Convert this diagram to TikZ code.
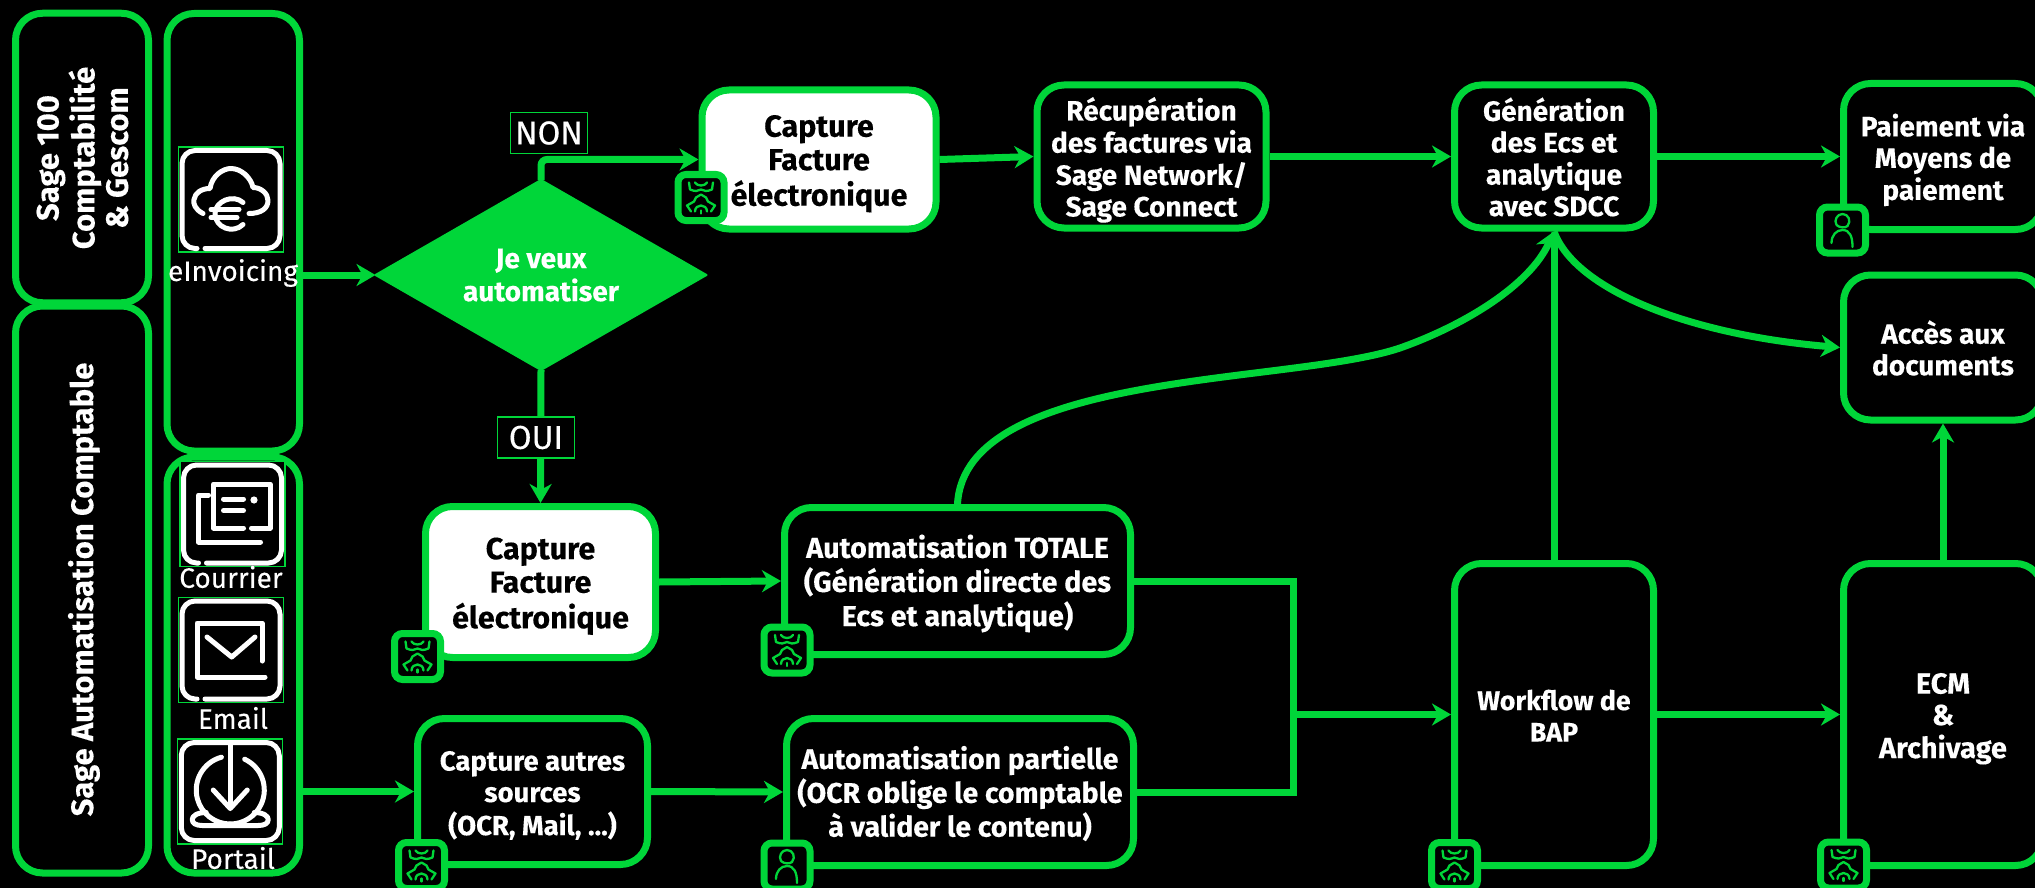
\documentclass[tikz,border=0pt]{standalone}
\usepackage{fontspec}
\setmainfont{Fira Sans}[BoldFeatures={FakeBold=0.25}]
\usetikzlibrary{arrows.meta,shapes.geometric,calc}
\definecolor{sgreen}{HTML}{00D639}
\newcommand\fsz[2]{\fontsize{#1}{#2}\selectfont}
\newcommand\lowertext[2][5pt]{\raisebox{-#1}[\height][\depth]{\begin{tabular}{@{}c@{}}#2\end{tabular}}}
\tikzset{
  x=1pt,y=-1pt,
  wh/.style 2 args={minimum width=#1,minimum height=#2},
  box/.style={draw=sgreen,line width=7pt,fill=black,rounded corners=27pt,text=white,align=center,inner sep=0pt,font=\fsz{28}{31.5}\bfseries},
  whitebox/.style={box,fill=white,text=black,font=\fsz{30.5}{33.5}\bfseries},
  sidebox/.style={box,font=\fsz{31}{33.5}\bfseries},
  conn/.style={draw=sgreen,line width=7pt},
  arr/.style={conn,-{Stealth[length=19pt,width=22pt,inset=6pt]}},
  badge/.style={draw=sgreen,line width=7pt,fill=black,rounded corners=8pt,minimum size=46pt,inner sep=0pt},
  frame/.style={draw=sgreen,line width=1.2pt,fill=black,minimum size=105pt,inner sep=0pt},
  iconlabel/.style={text=white,inner sep=0pt,font=\fsz{28}{30}\mdseries\addfontfeature{FakeBold=0.2}},
  tag/.style={draw=sgreen,line width=1.2pt,fill=black,text=white,inner sep=0pt,font=\fsz{33}{34}\mdseries\addfontfeature{FakeBold=0.2}},
  wline/.style={draw=white,line width=5pt,line cap=round,line join=round},
  gline/.style={draw=sgreen,line width=2.3pt,line cap=round,line join=round},
  boticon/.pic={
    \draw[gline] (-12,-15) -- (-11,-8) .. controls (-6,-6) and (-3,-6) .. (0,-8) .. controls (3,-6) and (6,-6) .. (11,-8) -- (12,-15);
    \draw[gline] (-6,-15) .. controls (-4,-11) and (4,-11) .. (6,-15);
    \draw[gline] (-10,14) -- (-14,8) -- (-7,4) -- (-5,0) -- (0,-3) -- (5,0) -- (7,4) -- (14,8) -- (10,14);
    \draw[gline] (-6,14) .. controls (-6,6) and (6,6) .. (6,14);
    \draw[gline] (0,13) -- (0,16);
  },
  personicon/.pic={
    \draw[gline] (-6,-5) .. controls (-9,-10) and (-5,-16) .. (0,-16) .. controls (6,-16) and (9,-9) .. (5,-4) .. controls (3,-2) and (-3,-2) .. (-6,-5);
    \draw[gline] (-11,13) .. controls (-11,5) and (-6,0) .. (0,0) .. controls (7,0) and (10,6) .. (10,17);
  },
  outlineicon/.pic={
    \draw[wline,rounded corners=13pt] (-34,49) -- (-49,49) -- (-49,-49) -- (49,-49) -- (49,49) -- (-26,49);
  },
  cloudicon/.pic={
    \draw[wline] (-28,14) .. controls (-36,10) and (-38,4) .. (-37,0) .. controls (-36,-7) and (-29,-11) .. (-21,-11)
       .. controls (-19,-24) and (-8,-31) .. (0,-31) .. controls (10,-31) and (20,-22) .. (22,-12)
       .. controls (30,-12) and (37,-6) .. (37,1) .. controls (37,9) and (30,14) .. (18,14);
    \draw[wline] (12,3) .. controls (2,-6) and (-16,2) .. (-16,14) .. controls (-16,28) and (2,35) .. (12,25);
    \draw[wline] (-20,10) -- (8,10);
    \draw[wline] (-20,18) -- (6,18);
  },
  mailicon/.pic={
    \draw[wline] (19,14) -- (37.5,14) -- (37.5,-30) -- (-19,-30) -- (-19,14) -- (11,14);
    \draw[wline] (-24,-19) -- (-34,-19) -- (-34,28) -- (28,28);
    \draw[wline] (-9,-15) -- (11,-15);
    \draw[wline] (-9,-3.5) -- (11,-3.5);
    \fill[white] (21.5,-14) circle (3.6pt);
  },
  envicon/.pic={
    \draw[wline] (34,27) -- (-34,27) -- (-34,-27) -- (31,-27) -- (31,11);
    \draw[wline] (-24,-13) -- (0.7,7) -- (24,-13);
  },
  downicon/.pic={
    \draw[wline,rounded corners=13pt] (8,-49) -- (49,-49) -- (49,49) -- (-49,49) -- (-49,-49) -- (-2,-49) -- (0,-49);
    \draw[wline] (0,-49) -- (0,16);
    \draw[wline] (-17,-1.5) -- (0,17) -- (17,-1.5);
    \draw[wline] (-8.8,-34.3) arc (-105:-270:34);
    \draw[wline] (14.4,-32.3) arc (-65:90:34);
    \draw[wline] (-24,21) .. controls (-34,21) and (-38,25) .. (-38,28) .. controls (-38,32) and (-34,34) .. (-28,34) -- (28,34)
      .. controls (34,34) and (38,32) .. (38,28) .. controls (38,25) and (34,21) .. (24,21);
  },
}
\newcommand\botbadge[2]{\node[badge] (#1) at (#2) {}; \pic at (#2) {boticon};}
\newcommand\userbadge[2]{\node[badge] (#1) at (#2) {}; \pic at (#2) {personicon};}
\begin{document}
\begin{tikzpicture}
\useasboundingbox (0,0) rectangle (2035,888);
\clip (0,0) rectangle (2035,888);
\fill[black] (0,0) rectangle (2035,888);

% side columns
\node[sidebox,rotate=90,wh={289.5}{133}] (sage) at (82,158) {\lowertext[4.5pt]{Sage 100\\Comptabilité\\\& Gescom}};
\node[sidebox,rotate=90,wh={567}{133}] (auto) at (82,589.5) {\lowertext[3.5pt]{Sage Automatisation Comptable}};
\node[box,wh={132.5}{437.5}] (einv) at (233.25,232.25) {};
\node[box,wh={132.5}{416}] (src) at (233.25,665) {};

% flow nodes
\node[diamond,aspect=1.734,fill=sgreen,draw=sgreen,line width=2pt,line join=round,minimum width=331pt,minimum height=190pt,inner sep=0pt,outer sep=0pt,text=white,align=center,font=\fsz{28}{33}\bfseries] (dec) at (541,275) {\lowertext[3pt]{Je veux\\automatiser}};
\node[whitebox,wh={234}{139}] (capa) at (819,159.5) {\lowertext{Capture\\Facture\\électronique}};
\node[whitebox,wh={230}{151}] (capb) at (540.5,582) {\lowertext{Capture\\Facture\\électronique}};
\node[box,wh={230}{146},font=\fsz{27.5}{31.5}\bfseries] (capc) at (532.5,791.5) {\lowertext{Capture autres\\sources\\(OCR, Mail, ...)}};
\node[box,wh={229}{143}] (rec) at (1151.5,156.5) {\lowertext{Récupération\\des factures via\\Sage Network/\\Sage Connect}};
\node[box,wh={199}{143}] (gen) at (1554,156.5) {\lowertext{Génération\\des Ecs et\\analytique\\avec SDCC}};
\node[box,wh={199}{146}] (pai) at (1943,156.5) {\lowertext{Paiement via\\Moyens de\\paiement}};
\node[box,wh={199}{145}] (acc) at (1943,347.5) {\lowertext{Accès aux\\documents}};
\node[box,wh={346}{147},font=\fsz{28.7}{31.5}\bfseries] (tot) at (957.5,581) {\lowertext[4pt]{Automatisation TOTALE\\(Génération directe des\\Ecs et analytique)}};
\node[box,wh={347}{147},font=\fsz{28.4}{31.5}\bfseries] (par) at (960,792) {\lowertext[4pt]{Automatisation partielle\\(OCR oblige le comptable\\à valider le contenu)}};
\node[box,wh={199}{302},font=\fsz{26.8}{31.5}\bfseries] (wf) at (1554,714.5) {\lowertext{Workflow de\\BAP}};
\node[box,wh={199}{302},font=\fsz{29}{31.5}\bfseries] (ecm) at (1943,714.5) {\lowertext{ECM\\\&\\Archivage}};

\coordinate (junc) at (1293,714.5);
\coordinate (ca) at (965,370);
\coordinate (cb) at (1290,385);
\coordinate (cm) at (1400,348);
\coordinate (cc) at (1465,325);
\coordinate (cd) at (1530,285);
\coordinate (ce) at (1575,290);
\coordinate (cf) at (1690,335);

% connectors
\draw[arr] (einv.east |- dec.west) -- (dec.west);
\draw[arr,rounded corners=6pt] (dec.north) |- (capa.west);
\draw[arr] (dec.south) -- (capb.north);
\draw[arr] (capa.east) -- (rec.west);
\draw[arr] (rec.east) -- (gen.west);
\draw[arr] (gen.east) -- (pai.west);
\draw[arr] (capb.east) -- (tot.west);
\draw[arr] (capc.east) -- (par.west);
\draw[arr] (src.east |- capc.west) -- (capc.west);
\draw[conn] (tot.east) -| (junc);
\draw[conn] (par.east) -| (junc);
\draw[arr] (junc) -- (wf.west);
\draw[arr] (wf.east) -- (ecm.west);
\draw[arr] (wf.north) -- (gen.south);
\draw[arr] (ecm.north) -- (acc.south);
\draw[arr] (tot.north) .. controls (ca) and (cb) .. (cm) .. controls (cc) and (cd) .. (gen.south);
\draw[arr] (gen.south) .. controls (ce) and (cf) .. (acc.west);

% tags
\node[tag,wh={77}{41}] (non) at (549,133) {NON};
\node[tag,wh={77}{41}] (oui) at (536,437.5) {OUI};

% icons with labels
\node[frame] (ia) at (231,199.5) {}; \pic at (ia) {outlineicon}; \pic at (ia) {cloudicon};
\node[iconlabel] (la) at (233,273) {eInvoicing};
\node[frame] (ib) at (232.5,514) {}; \pic at (ib) {outlineicon}; \pic at (ib) {mailicon};
\node[iconlabel] (lb) at (231,577) {Courrier};
\node[frame] (ic) at (231,650) {}; \pic at (ic) {outlineicon}; \pic at (ic) {envicon};
\node[iconlabel] (lc) at (233,718) {Email};
\node[frame] (id) at (230.25,791.5) {}; \pic at (id) {downicon};
\node[iconlabel] (ld) at (233,858) {Portail};

% badges
\botbadge{ba}{701,197.5}
\botbadge{bb}{417.5,656.5}
\botbadge{bc}{787,650}
\botbadge{bd}{421.5,865.5}
\userbadge{be}{787,866}
\userbadge{bf}{1842.5,230}
\botbadge{bg}{1454.5,865.5}
\botbadge{bh}{1843.5,865}
\end{tikzpicture}
\end{document}
